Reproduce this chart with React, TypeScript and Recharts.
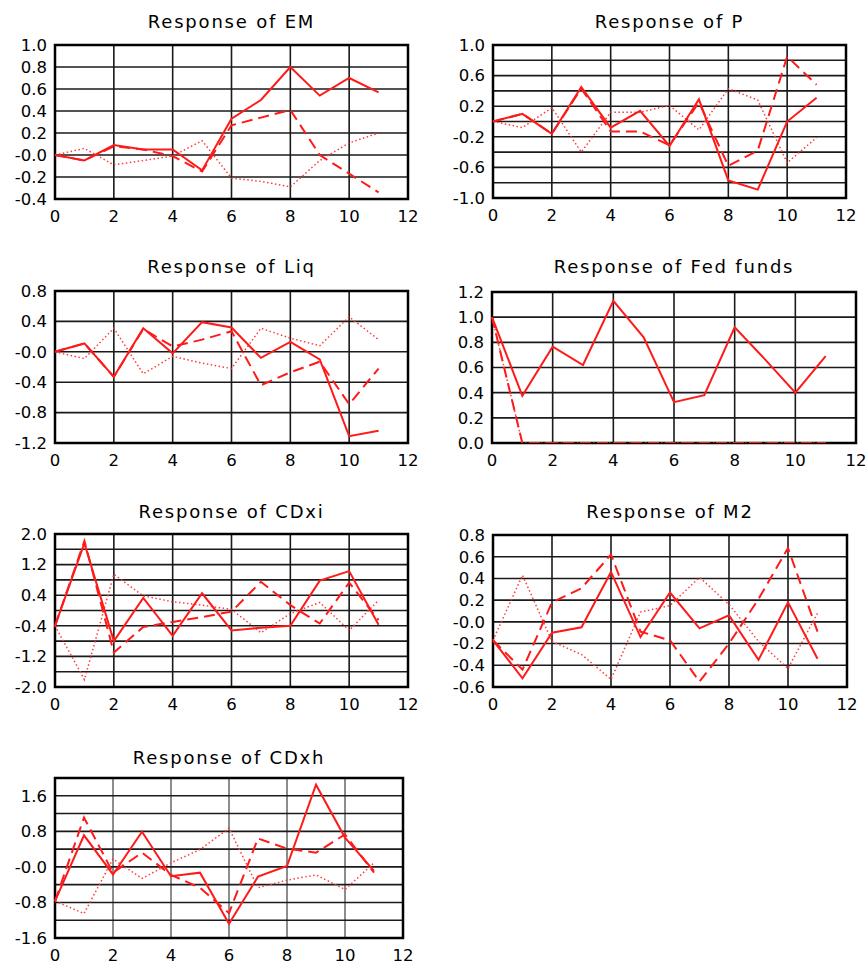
import {
  CartesianGrid,
  Line,
  LineChart,
  ReferenceArea,
  XAxis,
  YAxis,
} from "recharts";

const FONT = "'DejaVu Sans', sans-serif";

const horizons = [0, 1, 2, 3, 4, 5, 6, 7, 8, 9, 10, 11];
const xTicks = [0, 2, 4, 6, 8, 10, 12];

// Response of EM
const emSolid = [0, -0.05, 0.09, 0.05, 0.05, -0.14, 0.33, 0.5, 0.8, 0.54, 0.7, 0.57];
const emDashed = [0, -0.05, 0.08, 0.05, -0.01, -0.15, 0.27, 0.34, 0.41, 0.0, -0.17, -0.34];
const emDotted = [0, 0.06, -0.09, -0.05, -0.01, 0.13, -0.21, -0.24, -0.29, -0.05, 0.11, 0.2];
const emTicks = [-0.4, -0.2, 0, 0.2, 0.4, 0.6, 0.8, 1.0];
const emLabels = ["-0.4", "-0.2", "-0.0", "0.2", "0.4", "0.6", "0.8", "1.0"];

// Response of P
const pSolid = [0, 0.1, -0.16, 0.45, -0.08, 0.14, -0.32, 0.29, -0.77, -0.89, 0.0, 0.31];
const pDashed = [0, 0.1, -0.16, 0.43, -0.13, -0.13, -0.31, 0.25, -0.58, -0.38, 0.85, 0.48];
const pDotted = [0, -0.08, 0.18, -0.4, 0.12, 0.12, 0.21, -0.11, 0.43, 0.28, -0.54, -0.21];
const pTicks = [-1.0, -0.8, -0.6, -0.4, -0.2, 0, 0.2, 0.4, 0.6, 0.8, 1.0];
const pLabels = ["-1.0", "", "-0.6", "", "-0.2", "", "0.2", "", "0.6", "", "1.0"];

// Response of Liq
const liqSolid = [0, 0.11, -0.33, 0.31, -0.02, 0.39, 0.32, -0.08, 0.13, -0.1, -1.11, -1.04];
const liqDashed = [0, 0.11, -0.33, 0.3, 0.07, 0.16, 0.27, -0.44, -0.27, -0.13, -0.69, -0.22];
const liqDotted = [0, -0.09, 0.31, -0.29, -0.06, -0.15, -0.22, 0.31, 0.18, 0.08, 0.46, 0.16];
const liqTicks = [-1.2, -0.8, -0.4, 0, 0.4, 0.8];
const liqLabels = ["-1.2", "-0.8", "-0.4", "-0.0", "0.4", "0.8"];

// Response of Fed funds
const fedSolid = [1.0, 0.375, 0.765, 0.62, 1.13, 0.84, 0.325, 0.38, 0.92, 0.665, 0.4, 0.69];
const fedDashed = [1.0, 0, 0, 0, 0, 0, 0, 0, 0, 0, 0, 0];
const fedDotted = [1.0, 0, 0, 0, 0, 0, 0, 0, 0, 0, 0, 0];
const fedTicks = [0, 0.2, 0.4, 0.6, 0.8, 1.0, 1.2];
const fedLabels = ["0.0", "0.2", "0.4", "0.6", "0.8", "1.0", "1.2"];

// Response of CDxi
const cdxiSolid = [-0.4, 1.76, -0.8, 0.33, -0.66, 0.45, -0.52, -0.45, -0.4, 0.78, 1.03, -0.37];
const cdxiDashed = [-0.4, 1.82, -1.1, -0.43, -0.3, -0.17, -0.03, 0.75, 0.14, -0.34, 0.73, -0.25];
const cdxiDotted = [-0.4, -1.81, 0.95, 0.38, 0.23, 0.14, 0.03, -0.58, -0.08, 0.21, -0.52, 0.27];
const cdxiTicks = [-2.0, -1.6, -1.2, -0.8, -0.4, 0, 0.4, 0.8, 1.2, 1.6, 2.0];
const cdxiLabels = ["-2.0", "", "-1.2", "", "-0.4", "", "0.4", "", "1.2", "", "2.0"];

// Response of M2
const m2Solid = [-0.17, -0.52, -0.1, -0.05, 0.46, -0.14, 0.27, -0.06, 0.06, -0.35, 0.18, -0.34];
const m2Dashed = [-0.17, -0.44, 0.18, 0.31, 0.62, -0.09, -0.17, -0.55, -0.2, 0.21, 0.68, -0.09];
const m2Dotted = [-0.17, 0.43, -0.18, -0.3, -0.53, 0.09, 0.15, 0.41, 0.16, -0.18, -0.43, 0.08];
const m2Ticks = [-0.6, -0.4, -0.2, 0, 0.2, 0.4, 0.6, 0.8];
const m2Labels = ["-0.6", "-0.4", "-0.2", "-0.0", "0.2", "0.4", "0.6", "0.8"];

// Response of CDxh
const cdxhSolid = [-0.77, 0.71, -0.17, 0.79, -0.21, -0.13, -1.28, -0.22, 0.02, 1.85, 0.66, -0.09];
const cdxhDashed = [-0.77, 1.11, -0.13, 0.32, -0.18, -0.47, -1.04, 0.64, 0.41, 0.32, 0.73, -0.13];
const cdxhDotted = [-0.77, -1.05, 0.18, -0.26, 0.09, 0.39, 0.87, -0.47, -0.3, -0.18, -0.51, 0.09];
const cdxhTicks = [-1.6, -1.2, -0.8, -0.4, 0, 0.4, 0.8, 1.2, 1.6, 2.0];
const cdxhLabels = ["-1.6", "", "-0.8", "", "-0.0", "", "0.8", "", "1.6", ""];

type Box = { l: number; t: number; r: number; b: number };

type PanelProps = {
  title: string;
  solid: number[];
  dashed: number[];
  dotted: number[];
  yTicks: number[];
  yLabels: string[];
  box: Box;
  titleY: number;
  thinVertical?: boolean;
};

const Panel = ({
  title,
  solid,
  dashed,
  dotted,
  yTicks,
  yLabels,
  box,
  titleY,
  thinVertical,
}: PanelProps) => {
  const w = box.r - box.l;
  const h = box.b - box.t;
  const left = box.l - 55;
  const top = box.t - 45;
  const data = horizons.map((x, i) => ({
    x,
    solid: solid[i],
    dashed: dashed[i],
    dotted: dotted[i],
  }));
  const yMin = yTicks[0];
  const yMax = yTicks[yTicks.length - 1];
  const tick = { fill: "#000", fontSize: 16.5, fontFamily: FONT };

  return (
    <div style={{ position: "absolute", left, top, width: w + 75, height: h + 80 }}>
      <div
        style={{
          position: "absolute",
          left: 55,
          width: w,
          top: titleY - top - 12,
          height: 24,
          lineHeight: "24px",
          textAlign: "center",
          fontFamily: FONT,
          fontSize: 18,
          letterSpacing: 1.8,
          color: "#000",
        }}
      >
        {title}
      </div>
      <LineChart
        width={w + 75}
        height={h + 80}
        data={data}
        margin={{ top: 45, left: 5, right: 20, bottom: 10 }}
      >
        <CartesianGrid vertical={false} stroke="#1a1a1a" strokeWidth={1.6} />
        <CartesianGrid
          horizontal={false}
          stroke="#1a1a1a"
          strokeWidth={thinVertical ? 1 : 1.6}
        />
        <XAxis
          dataKey="x"
          type="number"
          domain={[0, 12]}
          ticks={xTicks}
          interval={0}
          tickLine={false}
          axisLine={false}
          tickMargin={5}
          height={25}
          tick={tick}
        />
        <YAxis
          type="number"
          domain={[yMin, yMax]}
          ticks={yTicks}
          interval={0}
          allowDataOverflow
          tickLine={false}
          axisLine={false}
          width={50}
          tick={tick}
          tickFormatter={(v: number) => yLabels[yTicks.indexOf(v)] ?? ""}
        />
        <ReferenceArea
          x1={0}
          x2={12}
          y1={yMin}
          y2={yMax}
          fill="none"
          stroke="#000"
          strokeWidth={2.5}
        />
        <Line
          dataKey="dotted"
          stroke="#ff3b3b"
          strokeWidth={1.5}
          strokeDasharray="1.5 2.5"
          dot={false}
          isAnimationActive={false}
        />
        <Line
          dataKey="dashed"
          stroke="#ff1a1a"
          strokeWidth={2}
          strokeDasharray="11 6"
          dot={false}
          isAnimationActive={false}
        />
        <Line
          dataKey="solid"
          stroke="#ff1a1a"
          strokeWidth={2}
          dot={false}
          isAnimationActive={false}
        />
      </LineChart>
    </div>
  );
};

const App = () => {
  return (
    <div
      style={{
        position: "absolute",
        left: 0,
        top: 0,
        width: 867,
        height: 963,
        background: "#fff",
      }}
    >
      <Panel
        title="Response of EM"
        solid={emSolid}
        dashed={emDashed}
        dotted={emDotted}
        yTicks={emTicks}
        yLabels={emLabels}
        box={{ l: 55, t: 45, r: 408, b: 199 }}
        titleY={22}
      />
      <Panel
        title="Response of P"
        solid={pSolid}
        dashed={pDashed}
        dotted={pDotted}
        yTicks={pTicks}
        yLabels={pLabels}
        box={{ l: 493, t: 45, r: 846, b: 198 }}
        titleY={22}
      />
      <Panel
        title="Response of Liq"
        solid={liqSolid}
        dashed={liqDashed}
        dotted={liqDotted}
        yTicks={liqTicks}
        yLabels={liqLabels}
        box={{ l: 55, t: 291, r: 408, b: 443 }}
        titleY={267}
      />
      <Panel
        title="Response of Fed funds"
        solid={fedSolid}
        dashed={fedDashed}
        dotted={fedDotted}
        yTicks={fedTicks}
        yLabels={fedLabels}
        box={{ l: 492, t: 292, r: 856, b: 443 }}
        titleY={267}
      />
      <Panel
        title="Response of CDxi"
        solid={cdxiSolid}
        dashed={cdxiDashed}
        dotted={cdxiDotted}
        yTicks={cdxiTicks}
        yLabels={cdxiLabels}
        box={{ l: 55, t: 534, r: 408, b: 687 }}
        titleY={512}
      />
      <Panel
        title="Response of M2"
        solid={m2Solid}
        dashed={m2Dashed}
        dotted={m2Dotted}
        yTicks={m2Ticks}
        yLabels={m2Labels}
        box={{ l: 493, t: 535, r: 847, b: 687 }}
        titleY={512}
      />
      <Panel
        title="Response of CDxh"
        solid={cdxhSolid}
        dashed={cdxhDashed}
        dotted={cdxhDotted}
        yTicks={cdxhTicks}
        yLabels={cdxhLabels}
        box={{ l: 55, t: 778, r: 403, b: 938 }}
        titleY={758}
        thinVertical
      />
    </div>
  );
};

export default App;
